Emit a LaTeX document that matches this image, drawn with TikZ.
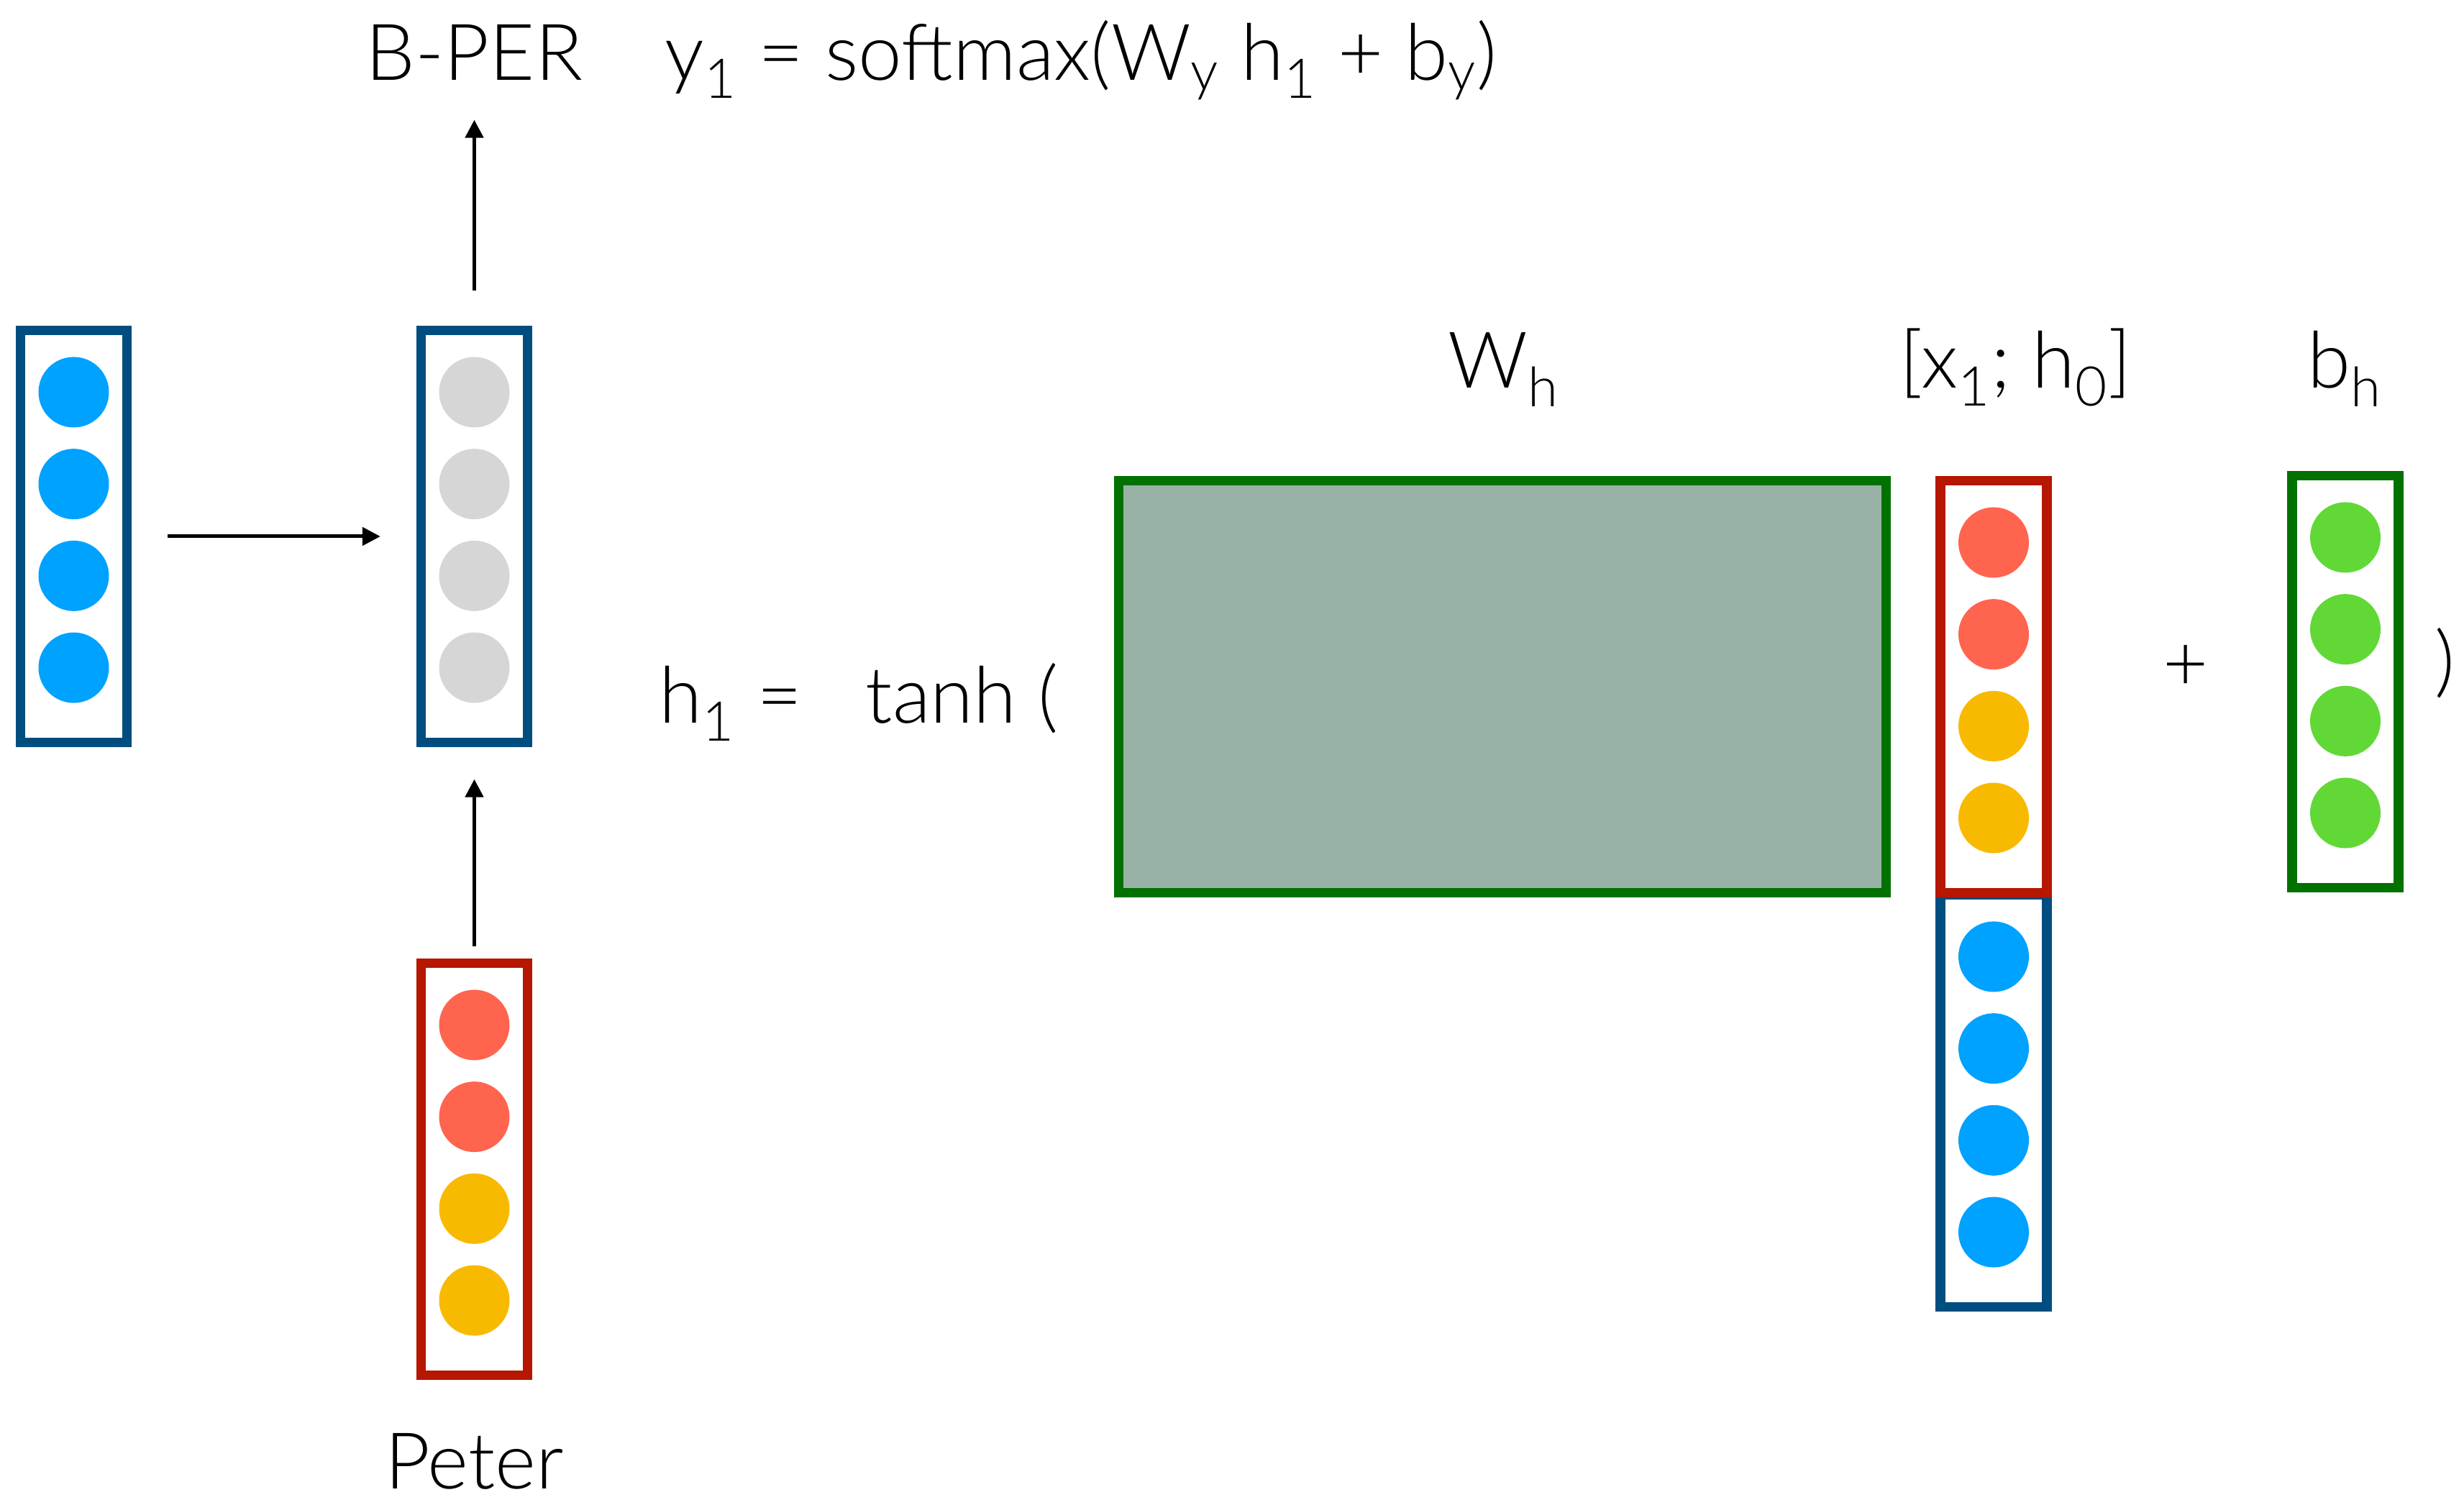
\documentclass[tikz,border=0pt]{standalone}
\usepackage{fontspec}
\setmainfont{Lato Light}
\usetikzlibrary{arrows.meta,calc}

\definecolor{vecblue}{HTML}{004D7F}
\definecolor{dotblue}{HTML}{00A2FF}
\definecolor{dotgray}{HTML}{D6D6D6}
\definecolor{vecred}{HTML}{B51700}
\definecolor{dotred}{HTML}{FF644E}
\definecolor{dotyellow}{HTML}{F8BA00}
\definecolor{vecgreen}{HTML}{017100}
\definecolor{dotgreen}{HTML}{61D836}
\definecolor{matfill}{HTML}{98B2A5}

\tikzset{
  vec/.style={draw=#1, line width=0.133cm, minimum width=1.48cm, minimum height=5.73cm, inner sep=0pt},
  dot/.style={circle, fill=#1, minimum size=0.98cm, inner sep=0pt},
  lbl/.style={inner sep=0pt, anchor=base, font=\fontsize{31}{37}\selectfont},
  arr/.style={-{Triangle[length=0.25cm,width=0.25cm]}, line width=0.05cm},
}

\begin{document}
\begin{tikzpicture}
        \useasboundingbox (0,0) rectangle (34.26,20.92);
        % vectors
        \node[vec=vecblue] (hprev) at (1.025,13.46) {};
        \node[vec=vecblue] (hcur) at (6.595,13.46) {};
        \node[vec=vecred] (xin) at (6.595,4.66) {};
        \node[draw=vecgreen, fill=matfill, line width=0.133cm, minimum width=10.67cm, minimum height=5.73cm] (wh) at (20.89,11.37) {};
        \node[vec=vecblue] (hcat) at (27.72,5.61) {};
        \node[vec=vecred] (xcat) at (27.72,11.37) {};
        \node[vec=vecgreen] (bh) at (32.61,11.44) {};
        \foreach \c [count=\i] in {dotblue,dotblue,dotblue,dotblue} {
          \node[dot=\c] (hprev-\i) at ($(hprev)+(0,3.2825-1.277*\i)$) {};
          \node[dot=\c] (hcat-\i) at ($(hcat)+(0,3.2825-1.277*\i)$) {};
        }
        \foreach \i in {1,...,4} {
          \node[dot=dotgray] (hcur-\i) at ($(hcur)+(0,3.2825-1.277*\i)$) {};
          \node[dot=dotgreen] (bh-\i) at ($(bh)+(0,3.2825-1.277*\i)$) {};
        }
        \foreach \c [count=\i] in {dotred,dotred,dotyellow,dotyellow} {
          \node[dot=\c] (xin-\i) at ($(xin)+(0,3.2825-1.277*\i)$) {};
          \node[dot=\c] (xcat-\i) at ($(xcat)+(0,3.2825-1.277*\i)$) {};
        }
        % labels
        \node[lbl] (bper) at (6.595,19.80) {B-PER};
        \node[lbl, anchor=base west] (yeq) at (9.24,19.80) {y\textsubscript{1} = softmax(W\textsubscript{y} h\textsubscript{1} + b\textsubscript{y})};
        \node[lbl] (word) at (6.595,0.22) {Peter};
        \node[lbl, anchor=base west] (heq) at (9.16,10.86) {h\textsubscript{1} =};
        \node[lbl, anchor=base west] (tanh) at (12.03,10.86) {tanh (};
        \node[lbl] (whlbl) at (20.91,15.52) {W\textsubscript{h}};
        \node[lbl] (catlbl) at (28.03,15.52) {[x\textsubscript{1}; h\textsubscript{0}]};
        \node[lbl] (bhlbl) at (32.60,15.52) {b\textsubscript{h}};
        \node[lbl, anchor=center] (plus) at (30.39,11.63) {+};
        \node[lbl, anchor=center] (close) at (34.0,11.70) {)};
        % arrows
        \draw[arr, shorten <=0.5cm, shorten >=0.5cm] (hprev.east) -- (hcur.west);
        \draw[arr, shorten <=0.165cm, shorten >=0.445cm] (xin.north) -- (hcur.south);
        \draw[arr, shorten <=0.485cm, shorten >=0.54cm] (hcur.north) -- (bper.south);
      \end{tikzpicture}
\end{document}
